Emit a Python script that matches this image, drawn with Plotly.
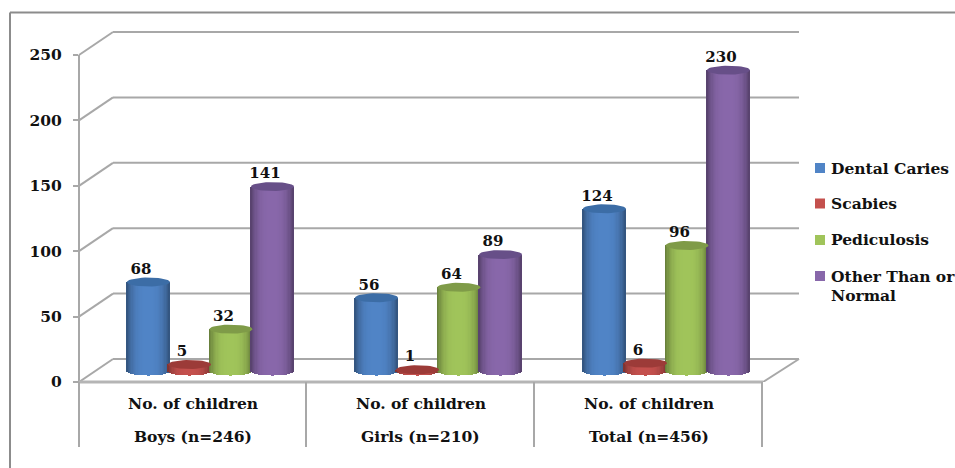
from math import cos, sin, pi

import plotly.graph_objects as go

# Chart data
groups = ["Boys (n=246)", "Girls (n=210)", "Total (n=456)"]
measure = "No. of children"
series_names = ["Dental Caries", "Scabies", "Pediculosis", "Other Than or<br>Normal"]
dental_caries = [68, 56, 124]
scabies = [5, 1, 6]
pediculosis = [32, 64, 96]
other_than_normal = [141, 89, 230]
y_ticks = [0, 50, 100, 150, 200, 250]

series_values = [dental_caries, scabies, pediculosis, other_than_normal]
# Cylinder body (centre colour) and cap colours per series
body_colors = [(80, 132, 198), (196, 80, 77), (160, 196, 90), (136, 103, 170)]
cap_colors = ["#3c6da6", "#9c3b38", "#7f9b48", "#674f88"]

FONT = "DejaVu Serif"
INK = "#111111"
GRID = "#a8a8a8"
FRAME = "#8c8c8c"

# Plot area in page pixels
W, H = 955, 468
LEFT, RIGHT, TOP, BOTTOM = 79, 799, 12, 382
PX_PER_UNIT = 1.308
GROUP_PX, GROUP_ORIGIN = 228, 192.5


def xp(px):
    return (px - LEFT) / (RIGHT - LEFT)


def yp(px):
    return (BOTTOM - px) / (BOTTOM - TOP)


# 3D projection of the chart floor and cylinder layout
floor_rise = 23 / PX_PER_UNIT
floor_dx = 34
baseline = 11 / PX_PER_UNIT
cap_ry = 4.5 / PX_PER_UNIT
depth_shift = 18 / GROUP_PX
label_shift = -7.5 / GROUP_PX
offsets = [o / GROUP_PX for o in (-62, -21, 20.5, 62)]
cyl_width = 43 / GROUP_PX
STRIPS = 34


def shade(rgb, t):
    # Darkens toward the cylinder's edges, t runs from -1 to 1
    k = 1 - 0.38 * abs(t) ** 3
    return "rgb(%d,%d,%d)" % tuple(round(c * k) for c in rgb)


fig = go.Figure()

for name, values, body, off in zip(series_names, series_values, body_colors, offsets):
    sx, sbase, sh, scol = [], [], [], []
    for i, v in enumerate(values):
        centre = i + depth_shift + off
        for s in range(STRIPS):
            t = (s + 0.5) / STRIPS * 2 - 1
            arc = cap_ry * (1 - t * t) ** 0.5
            sx.append(centre + t * cyl_width / 2)
            sbase.append(baseline - arc)
            sh.append(v + arc)
            scol.append(shade(body, t))
    fig.add_trace(go.Bar(
        x=sx, y=sh, base=sbase, width=cyl_width / STRIPS * 1.25,
        marker=dict(color=scol, line=dict(width=0)),
        name=name, showlegend=False, hoverinfo="skip",
    ))

for name, values, cap, off in zip(series_names, series_values, cap_colors, offsets):
    for i, v in enumerate(values):
        centre = i + depth_shift + off
        steps = [k / 40 * 2 * pi for k in range(41)]
        fig.add_trace(go.Scatter(
            x=[centre + cos(a) * cyl_width / 2 for a in steps],
            y=[v + baseline + sin(a) * cap_ry for a in steps],
            mode="lines", fill="toself", fillcolor=cap,
            line=dict(width=0, color=cap), showlegend=False, hoverinfo="skip",
        ))
    fig.add_trace(go.Scatter(
        x=[i + depth_shift + off + label_shift for i in range(len(values))],
        y=[v + baseline + cap_ry for v in values],
        mode="text", text=[str(v) for v in values], textposition="top center",
        textfont=dict(family=FONT, size=15, color=INK, weight="bold"),
        showlegend=False, hoverinfo="skip",
    ))

shapes = []


def line(x0, y0, x1, y1, color=GRID, width=2, yref="y"):
    shapes.append(dict(type="line", xref="paper", yref=yref, x0=x0, y0=y0, x1=x1, y1=y1,
                       layer="below", line=dict(color=color, width=width)))


back_left, back_right = xp(LEFT + floor_dx), xp(RIGHT)
for tick in y_ticks:
    line(xp(LEFT), tick, back_left, tick + floor_rise)
    line(back_left, tick + floor_rise, back_right, tick + floor_rise)
line(xp(LEFT), 0, xp(LEFT), max(y_ticks))
# Floor edges
line(xp(763), 0, back_right, floor_rise)
line(xp(LEFT), yp(BOTTOM), xp(763), yp(BOTTOM), color="#b5b5b5", width=3, yref="paper")
# Category table dividers
for px in (LEFT, 306, 534, 762):
    line(xp(px), yp(BOTTOM), xp(px), yp(447), yref="paper")
# Outer frame
line(xp(10), yp(468), xp(10), yp(12.5), color=FRAME, yref="paper")
line(xp(10), yp(12.5), xp(955), yp(12.5), color=FRAME, yref="paper")

annotations = []
for i, g in enumerate(groups):
    for text, py in ((measure, 403.5), (g, 436.5)):
        annotations.append(dict(
            x=i, y=yp(py), xref="x", yref="paper", text=text, showarrow=False,
            xanchor="center", yanchor="middle",
            font=dict(family=FONT, size=15.5, color=INK, weight="bold"),
        ))

# Key on the right: swatch plus one text row per line of the series name
legend_rows = [168, 203.5, 240, 276]
for name, body, py in zip(series_names, body_colors, legend_rows):
    shapes.append(dict(
        type="rect", xref="paper", yref="paper",
        x0=xp(815), x1=xp(825), y0=yp(py + 5), y1=yp(py - 5),
        fillcolor="rgb(%d,%d,%d)" % body, line=dict(width=0),
    ))
    for k, part in enumerate(name.split("<br>")):
        annotations.append(dict(
            x=xp(829), y=yp(py + k * 19), xref="paper", yref="paper", text=part, showarrow=False,
            xanchor="left", yanchor="middle", align="left",
            font=dict(family=FONT, size=15.5, color=INK, weight="bold"),
        ))

fig.update_layout(
    width=W, height=H, autosize=False,
    margin=dict(l=LEFT, r=W - RIGHT, t=TOP, b=H - BOTTOM, autoexpand=False),
    paper_bgcolor="white", plot_bgcolor="white",
    barmode="overlay", bargap=0, showlegend=False,
    shapes=shapes, annotations=annotations,
    xaxis=dict(visible=False, range=[(LEFT - GROUP_ORIGIN) / GROUP_PX, (RIGHT - GROUP_ORIGIN) / GROUP_PX]),
    yaxis=dict(
        range=[0, (BOTTOM - TOP) / PX_PER_UNIT], tickvals=y_ticks,
        showgrid=False, zeroline=False, showline=False,
        ticks="outside", ticklen=5, tickwidth=2, tickcolor=GRID, ticklabelstandoff=8,
        tickfont=dict(family=FONT, size=15.5, color=INK, weight="bold"),
    ),
)

fig.write_html("out.html", config={"displayModeBar": False})
